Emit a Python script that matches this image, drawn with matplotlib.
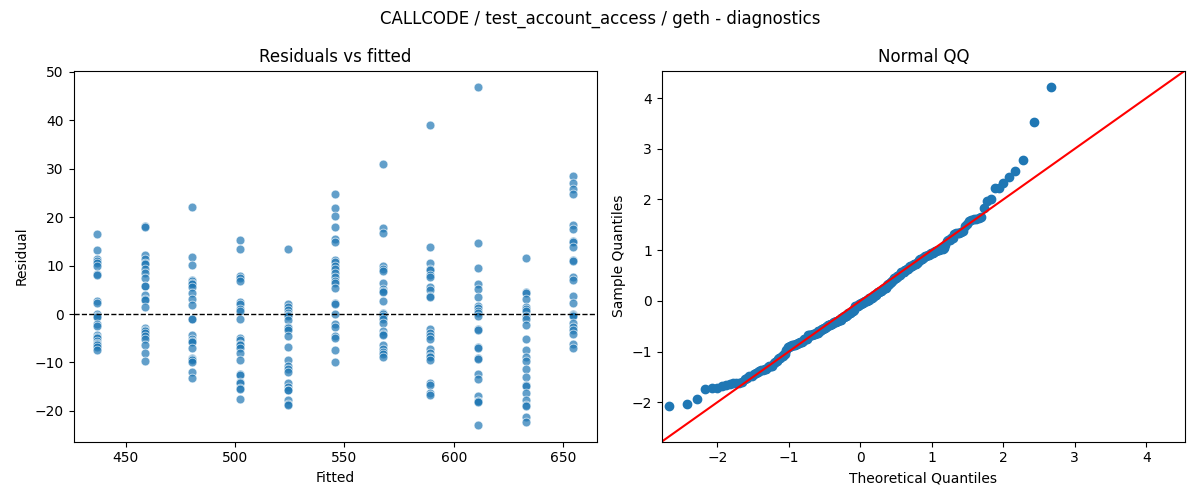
import numpy as np
import matplotlib
matplotlib.use("Agg")
import matplotlib.pyplot as plt
from statistics import NormalDist

# fitted level for each group of runs
fitted_levels = [437.0, 458.8, 480.5, 502.3, 524.0, 545.8, 567.5, 589.3, 611.0, 632.8, 654.5]

# residuals, one list per fitted level
res_g1 = [16.5, 13.2, 11.3, 10.9, 10.5, 9.9, 8.2, 8.1, 2.7, 2.3, 0.1, -0.4,
          -0.7, -2.1, -2.5, -4.3, -4.7, -5.0, -5.6, -5.9, -6.1, -6.4, -6.9, -7.4]
res_g2 = [18.1, 18.0, 12.2, 11.3, 10.5, 10.3, 9.2, 8.5, 7.4, 5.8, 5.7, 3.9,
          3.2, 2.8, 1.4, -2.8, -3.4, -3.6, -4.0, -4.5, -5.2, -6.5, -8.1, -9.8]
res_g3 = [22.2, 11.7, 10.1, 7.0, 6.8, 6.5, 6.2, 5.6, 4.3, 3.0, 1.8, -1.0,
          -1.1, -4.3, -5.2, -5.6, -5.8, -7.1, -9.0, -9.3, -9.5, -9.9, -12.0, -13.3]
res_g4 = [15.2, 13.4, 7.9, 7.4, 6.9, 2.4, 2.0, 1.0, 0.7, -1.1, -5.0, -5.4,
          -6.1, -6.5, -7.1, -8.1, -9.6, -12.3, -12.6, -14.0, -14.2, -15.2, -15.4, -17.6]
res_g5 = [13.4, 2.0, 1.4, 0.8, 0.3, -0.2, -0.5, -1.2, -2.6, -2.9, -3.3, -4.5,
          -6.9, -9.6, -10.7, -11.4, -12.0, -14.3, -15.0, -15.6, -15.8, -17.8, -18.5, -18.8]
res_g6 = [24.7, 21.8, 20.3, 17.9, 15.4, 14.9, 11.2, 10.7, 10.0, 9.2, 8.4, 7.7,
          6.8, 6.5, 5.3, 2.3, 2.0, 0.1, -2.1, -2.6, -4.5, -5.0, -7.4, -10.0]
res_g7 = [30.9, 17.7, 16.8, 9.9, 9.4, 8.9, 6.5, 5.1, 4.8, 4.6, 2.7, 0.3,
          0.1, -0.4, -1.1, -1.9, -3.6, -4.1, -4.3, -6.3, -7.3, -7.8, -8.2, -8.8]
res_g8 = [39.0, 13.8, 10.5, 9.2, 9.0, 8.1, 7.6, 5.6, 5.0, 3.8, 3.6, -3.2,
          -4.0, -4.5, -5.2, -7.3, -8.1, -8.7, -8.9, -9.5, -14.2, -14.7, -16.3, -16.7]
res_g9 = [46.8, 14.6, 9.6, 6.3, 5.1, 3.6, 1.7, 1.2, 0.7, 0.3, -0.4, -3.2,
          -3.4, -6.9, -7.1, -9.0, -9.2, -12.4, -13.4, -16.9, -17.9, -18.0, -18.2, -22.9]
res_g10 = [11.5, 4.5, 4.3, 3.0, 1.4, 1.0, 0.7, -0.5, -1.1, -2.3, -5.2, -7.4,
           -8.8, -9.8, -11.4, -13.0, -14.7, -14.9, -16.3, -17.8, -18.8, -19.1, -21.2, -22.3]
res_g11 = [28.5, 27.0, 25.8, 24.7, 18.4, 17.5, 15.0, 14.9, 13.8, 11.2, 11.0, 7.7,
           7.0, 3.7, 2.2, 0.1, -0.2, -0.5, -1.9, -2.6, -3.3, -4.1, -6.1, -7.1]

groups = [res_g1, res_g2, res_g3, res_g4, res_g5, res_g6,
          res_g7, res_g8, res_g9, res_g10, res_g11]

fitted = np.concatenate([[f] * len(g) for f, g in zip(fitted_levels, groups)])
resid = np.concatenate(groups)

fig, (ax1, ax2) = plt.subplots(1, 2, figsize=(12, 5), dpi=100)

# Residuals vs fitted
ax1.scatter(fitted, resid, s=40, color="#1f77b4", alpha=0.7,
            edgecolors="white", linewidths=0.6)
ax1.axhline(0, color="black", linestyle="--", linewidth=1)
ax1.set_xlabel("Fitted")
ax1.set_ylabel("Residual")
ax1.set_title("Residuals vs fitted")

# Normal QQ of standardized residuals
n = len(resid)
sample_q = np.sort((resid - resid.mean()) / resid.std(ddof=1))
theo_q = np.array([NormalDist().inv_cdf(i / (n + 1)) for i in range(1, n + 1)])
ax2.plot(theo_q, sample_q, "o", color="#1f77b4", markersize=6)
ax2.set_xmargin(0.02)
ax2.autoscale_view()
lo = min(ax2.get_xlim()[0], ax2.get_ylim()[0])
hi = max(ax2.get_xlim()[1], ax2.get_ylim()[1])
ax2.plot([lo, hi], [lo, hi], "r-")
ax2.set_xlim(lo, hi)
ax2.set_ylim(lo, hi)
ax2.set_xlabel("Theoretical Quantiles")
ax2.set_ylabel("Sample Quantiles")
ax2.set_title("Normal QQ")

fig.suptitle("CALLCODE / test_account_access / geth - diagnostics")
fig.tight_layout()
fig.savefig("out.png")
